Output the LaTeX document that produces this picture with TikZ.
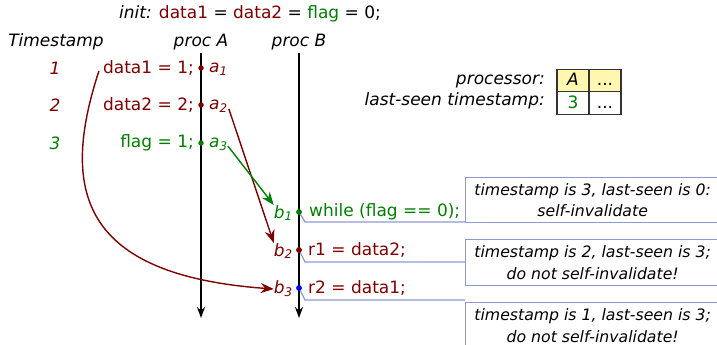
\documentclass[tikz,border=0pt]{standalone}
\usepackage{fontspec}
\setmainfont{DejaVu Sans}
\usetikzlibrary{arrows.meta}
\definecolor{dred}{RGB}{128,0,0}
\definecolor{dgreen}{RGB}{0,128,0}
\definecolor{boxblue}{RGB}{140,155,205}
\definecolor{lyellow}{RGB}{255,247,176}
\tikzset{
  txt/.style={inner sep=0pt, font=\fontsize{17}{20}\selectfont},
  itxt/.style={inner sep=0pt, font=\fontsize{17}{20}\selectfont\itshape},
  dot/.style={circle, fill=#1, inner sep=0pt, minimum size=5.5pt},
  timeline/.style={line width=1.8pt, -{Stealth[length=11pt,width=8pt]}},
  msg/.style={line width=1.4pt, -{Stealth[length=13pt,width=10pt]}},
  callout/.style={draw=boxblue, line width=1.3pt},
  note/.style={draw=boxblue, line width=1.3pt, minimum width=254pt, inner sep=0pt, anchor=north west, align=center, font=\fontsize{15.7}{21.5}\selectfont\itshape},
  cell/.style={draw=black!80, line width=1.1pt, minimum width=32pt, minimum height=22.5pt, inner sep=0pt, text height=12pt, text depth=2pt, font=\fontsize{17}{20}\selectfont}
}
\begin{document}
\begin{tikzpicture}[x=1pt,y=-1pt]
\useasboundingbox (0,0) rectangle (717,345);
\clip (0,0) rectangle (717,345);
% title
\node[txt] (init) at (250,14) {\textit{init:} \textcolor{dred}{data1} = \textcolor{dred}{data2} = \textcolor{dgreen}{flag} = 0;};
\node[itxt] (ts) at (56,42) {Timestamp};
\node[itxt] (pA) at (201,42) {proc A};
\node[itxt] (pB) at (299,42) {proc B};
% timelines
\coordinate (Atop) at (201,53);
\coordinate (Abot) at (201,318);
\coordinate (Btop) at (299,53);
\coordinate (Bbot) at (299,318);
\draw[timeline] (Atop) -- (Abot);
\draw[timeline] (Btop) -- (Bbot);
% timestamps
\node[itxt, text=dred] (t1) at (55,68) {1};
\node[itxt, text=dred] (t2) at (55,105) {2};
\node[itxt, text=dgreen] (t3) at (55,143) {3};
% proc A events
\node[dot=dred] (da1) at (201,68) {};
\node[dot=dred] (da2) at (201,105) {};
\node[dot=dgreen] (da3) at (201,143) {};
\node[txt, text=dred, anchor=east] (s1) at (194,68) {data1 = 1;};
\node[txt, text=dred, anchor=east] (s2) at (194,105) {data2 = 2;};
\node[txt, text=dgreen, anchor=east] (s3) at (194,143) {flag = 1;};
\node[itxt, text=dred, anchor=west] (a1) at (209,69) {a\textsubscript{1}};
\node[itxt, text=dred, anchor=west] (a2) at (209,106) {a\textsubscript{2}};
\node[itxt, text=dgreen, anchor=west] (a3) at (209,144) {a\textsubscript{3}};
% proc B events
\node[dot=dgreen] (db1) at (299,212) {};
\node[dot=dred] (db2) at (299,250) {};
\node[dot=blue] (db3) at (299,288) {};
\node[itxt, text=dgreen, anchor=east] (b1) at (293,213) {b\textsubscript{1}};
\node[itxt, text=dred, anchor=east] (b2) at (293,251) {b\textsubscript{2}};
\node[itxt, text=dred, anchor=east] (b3) at (293,289) {b\textsubscript{3}};
\node[txt, text=dgreen, anchor=west] (r0) at (309,212) {while (flag == 0);};
\node[txt, text=dred, anchor=west] (r1) at (308,250) {r1 = data2;};
\node[txt, text=dred, anchor=west] (r2) at (308,288) {r2 = data1;};
% messages
\draw[msg, dred] (a2.east) ++(1,3) coordinate (m2s) -- (b2.north west);
\draw[msg, dgreen] (a3.east) ++(0,2) coordinate (m3s) -- (b1.north west);
\draw[msg, dred] (s1.west) ++(-4,3) coordinate (m1s) .. controls (60,190) and (80,275) .. (b3.west);
% notes
\node[note, minimum height=45pt] (n1) at (465,177) {timestamp is 3, last-seen is 0:\\self-invalidate};
\node[note, minimum height=46pt] (n2) at (465,239) {timestamp is 2, last-seen is 3;\\do not self-invalidate!};
\node[note, minimum height=46pt] (n3) at (465,302) {timestamp is 1, last-seen is 3;\\do not self-invalidate!};
\coordinate (k1) at (305,222);
\coordinate (k2) at (305,262);
\coordinate (k3) at (305,300);
\draw[callout] (db1.center) -- (k1) -- (k1 -| n1.west);
\draw[callout] (db2.center) -- (k2) -- (k2 -| n2.west);
\draw[callout] (db3.center) -- (k3) -- (k3 -| n3.west);
\node[dot=dgreen] at (db1) {};
\node[dot=dred] at (db2) {};
\node[dot=blue] at (db3) {};
% table
\node[itxt, anchor=east] (lp) at (545,82) {processor:};
\node[itxt, anchor=east] (ll) at (545,101) {last-seen timestamp:};
\node[cell, fill=lyellow, font=\fontsize{17}{20}\selectfont\itshape] (cA) at (573,80.5) {A};
\node[cell, fill=lyellow] (cD1) at (605,80.5) {{.}{.}{.}};
\node[cell, text=dgreen] (c3) at (573,103) {3};
\node[cell] (cD2) at (605,103) {{.}{.}{.}};
\end{tikzpicture}
\end{document}
